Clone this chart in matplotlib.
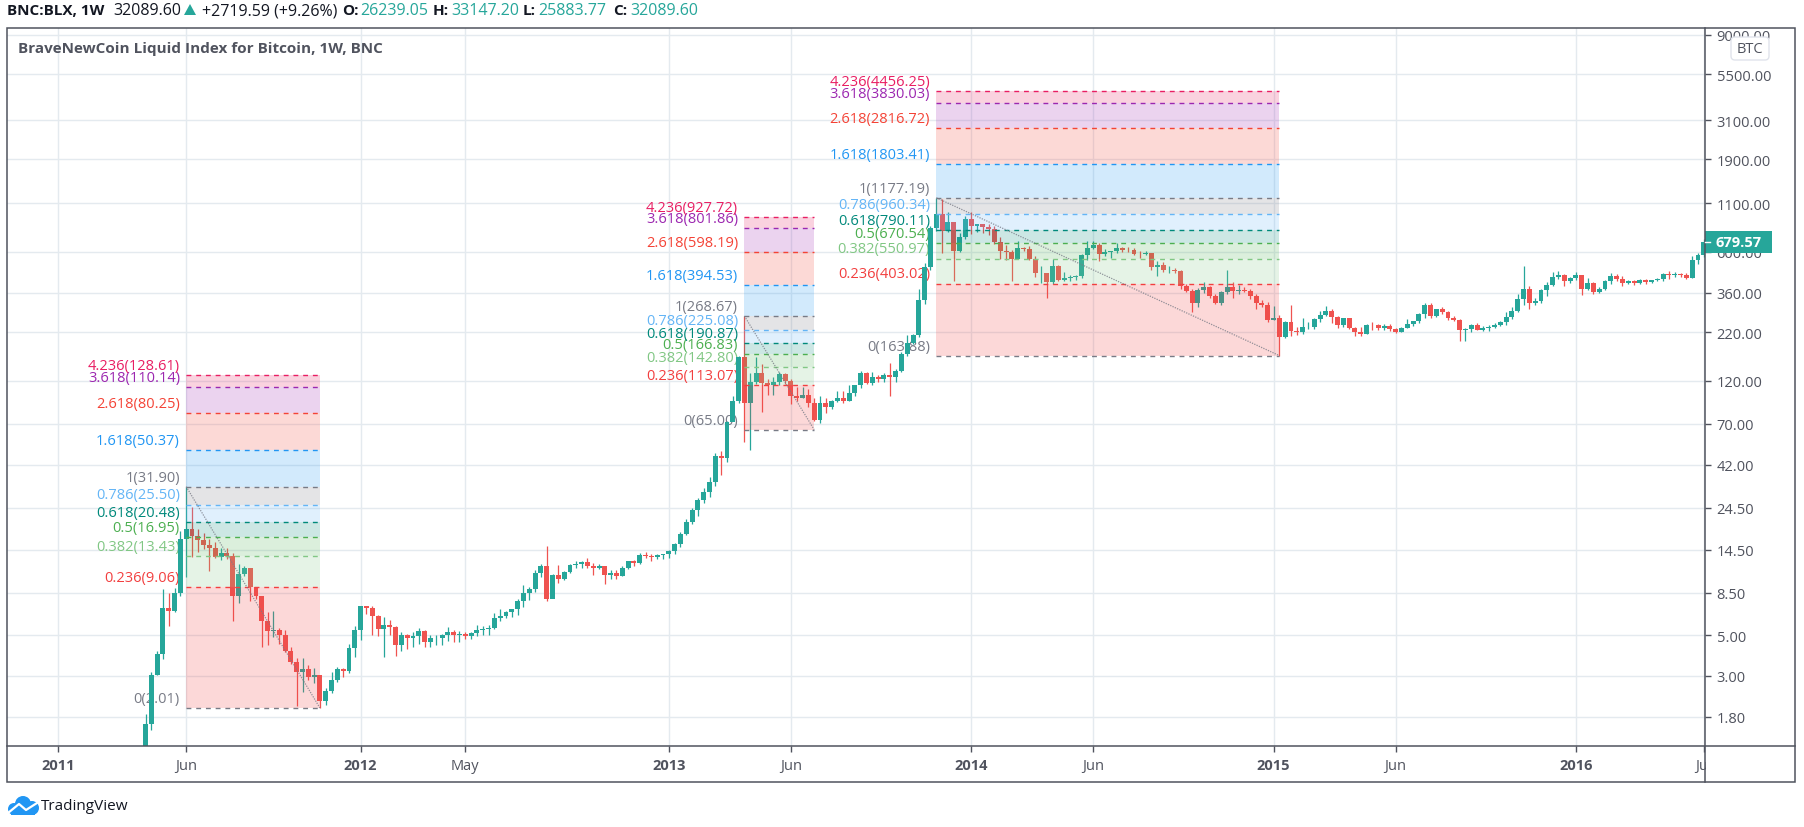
import numpy as np
import matplotlib
matplotlib.use('Agg')
import matplotlib.pyplot as plt
from matplotlib.patches import Rectangle, Circle, FancyBboxPatch, Polygon

plt.rcParams['font.family'] = ['Open Sans', 'DejaVu Sans']

# weekly candles, bar numbers counted from the first week of 2011
first_bar = 15
first_open = 1.0

closes = [1.65,3.05,3.92,7.05,6.73,8.50,16.6,18.8,17.3,16.3,
          15.3,14.8,13.2,14.0,13.4,8.12,10.7,11.5,9.08,8.09,
          5.94,5.24,5.33,5.03,4.09,3.56,3.14,3.27,2.95,3.02,
          2.19,2.50,2.86,3.27,3.17,4.26,5.29,7.19,7.03,6.32,
          5.38,5.68,5.51,4.43,4.98,4.81,4.92,5.24,4.57,4.82,
          4.84,5.02,5.22,4.98,5.09,4.92,5.13,5.33,5.36,5.46,
          6.22,6.35,6.68,6.88,7.69,8.50,8.83,10.9,11.8,7.8,
          10.6,10.1,11.0,12.0,12.2,12.5,11.8,11.6,11.8,10.6,
          10.8,10.5,11.6,12.6,12.3,13.5,13.4,13.3,13.5,13.7,
          14.3,15.6,17.7,20.6,23.9,27.0,29.9,33.9,46.8,45.9,
          71.9,93.1,161,91,118,132,116,113,118,131,
          120,99,97,100.6,91,73.5,90.4,86,93,97,
          93.5,102.4,113,132,117,125,122,128,126,136,
          168,193,212,327,496,810,959,779,866,606,
          725,905,832,848,812,800,677,606,600,550,
          626,620,548,458,462,412,500,422,430,435,
          443,575,628,652,585,600,603,628,616,613,
          586,580,590,495,510,475,480,472,390,366,
          317,374,385,345,316,362,384,366,373,368,
          344,318,308,256,262,208,250,224,220,234,
          235,258,272,287,267,240,261,230,220,215,
          240,239,232,238,228,220,232,244,252,274,
          309,269,292,282,261,257,226,228,240,226,
          230,235,240,250,265,286,332,377,317,324,
          373,394,437,447,417,431,450,377,408,361,
          376,417,443,429,404,415,407,422,410,420,
          425,457,451,455,447,434,542,575,679.57]

highs = [1.87,3.14,4.07,8.90,8.47,9.01,18.4,31.9,24.6,18.8,
         17.9,16.5,15.9,14.9,14.9,13.9,12.1,11.9,11.6,9.15,
         8.15,6.65,6.74,5.44,5.33,4.33,3.76,3.76,3.42,3.32,
         3.0,2.58,3.14,3.37,3.32,4.48,5.60,7.2,7.19,7.19,
         6.4,6.24,6.03,5.60,5.20,5.09,5.20,5.46,5.33,4.98,
         4.98,5.09,5.51,5.29,5.24,5.17,5.20,5.68,5.62,5.64,
         6.56,6.96,6.79,6.96,7.85,9.39,9.08,11.3,12.1,15.2,
         10.7,12.0,11.1,12.1,12.6,12.6,13.1,12.3,12.1,11.9,
         11.3,11.2,11.8,12.6,12.8,13.9,14.1,13.8,13.7,13.8,
         14.4,15.7,18.1,21.3,24.3,27.6,31.5,36.0,48.8,49.9,
         72,99.4,164,268.67,132,161,148,122,125,134,
         132,122,111,111,108,96,99,96,94,105,
         105,113,114,136,134,134,128,132,150,139,
         171,212,216,378,518,828,1177,1155,982,866,
         757,932,982,850,848,848,825,720,654,612,
         684,640,648,570,500,462,545,510,465,450,
         450,585,690,690,668,618,606,668,640,635,
         628,604,604,592,533,528,500,490,480,400,
         378,383,412,390,352,367,480,412,398,388,
         377,352,330,320,305,272,253,307,233,262,
         250,262,285,303,292,268,263,263,235,235,
         243,250,243,243,242,232,233,260,254,278,
         318,318,294,301,286,268,259,232,243,246,
         237,240,246,253,283,300,352,502,393,335,
         376,411,468,473,453,436,468,450,430,410,
         384,420,458,452,443,422,420,425,425,422,
         431,459,472,465,459,459,572,590,700]

lows = [1.0,1.53,3.02,3.71,5.58,6.65,8.19,10.3,13.2,14.1,
        14.7,11.1,13.1,12.7,12.9,5.99,7.44,10.5,7.69,7.85,
        4.30,4.39,4.87,4.48,4.04,3.46,2.06,2.45,2.86,2.74,
        2.01,2.08,2.43,2.77,2.95,3.10,3.78,4.67,6.53,4.98,
        4.92,3.78,4.98,3.87,4.09,4.21,4.30,4.48,4.33,4.30,
        4.43,4.39,4.63,4.57,4.57,4.74,4.78,4.92,5.0,5.03,
        5.38,5.94,6.2,6.24,6.44,7.10,7.75,8.53,10.3,7.65,
        7.9,9.63,9.9,10.8,11.6,11.6,11.5,10.6,11.4,9.4,
        10.1,10.1,10.4,11.4,11.8,12.1,13.1,12.6,13.0,13.0,
        13.1,13.7,15.1,17.5,19.9,22.0,26.1,28.2,32.0,36.8,
        43.5,72,91,56,50.5,115,81,100,100,113,
        115,90,93.4,97,86,72,71,80,84,91.5,
        91,93,99.4,110,115,113,118,118,99,118,
        134,164,190,208,314,478,779,593,772,414,
        600,707,747,772,760,735,659,550,540,418,
        548,605,540,435,405,338,403,416,416,414,
        424,430,540,620,535,572,552,590,600,596,
        576,552,574,475,442,465,460,458,378,362,
        282,302,360,335,312,310,353,336,356,361,
        332,295,300,250,255,163.88,205,210,212,214,
        228,228,250,270,245,232,235,228,210,210,
        215,226,226,226,224,218,220,231,236,246,
        263,263,267,276,257,251,197,197,220,225,
        223,223,232,236,240,258,283,310,294,310,
        318,345,391,425,393,405,424,350,370,355,
        358,370,403,417,390,403,398,403,403,408,
        414,414,425,435,440,429,432,512,560]

y_ticks = [9000, 5500, 3100, 1900, 1100, 600, 360, 220, 120, 70, 42, 24.5, 14.5, 8.5, 5, 3, 1.8]
x_ticks = [0, 22, 52, 70, 105, 126, 157, 178, 209, 230, 261, 283]
x_labels = ['2011', 'Jun', '2012', 'May', '2013', 'Jun', '2014', 'Jun', '2015', 'Jun', '2016', 'Jul']

# fib extension tools
fib_ratios = ['0', '0.236', '0.382', '0.5', '0.618', '0.786', '1', '1.618', '2.618', '3.618', '4.236']
fib_colors = ['#787b86', '#f23f3f', '#81c784', '#4caf50', '#00897b', '#64b5f6', '#787b86',
              '#2196f3', '#f44336', '#9c27b0', '#e91e63']
fib_a = [2.01, 9.06, 13.43, 16.95, 20.48, 25.50, 31.90, 50.37, 80.25, 110.14, 128.61]
fib_b = [65.00, 113.07, 142.80, 166.83, 190.87, 225.08, 268.67, 394.53, 598.19, 801.86, 927.72]
fib_c = [163.88, 403.02, 550.97, 670.54, 790.11, 960.34, 1177.19, 1803.41, 2816.72, 3830.03, 4456.25]
fib_spans = [(22, 45), (118, 130), (151, 210)]

UP = '#26a69a'
DOWN = '#ef5350'
GRID = '#e4eaef'
DARK = '#50535e'

W, H = 1804, 828
fig = plt.figure(figsize=(W / 100, H / 100), dpi=100, facecolor='white')
ax = fig.add_axes([7 / W, (H - 747) / H, 1698 / W, 718 / H])
ax.set_yscale('log')
ax.set_xlim(-8.82, 283.2)
ax.set_ylim(1.25, 9810)

ax.set_yticks(y_ticks)
ax.set_yticklabels(['%.2f' % v for v in y_ticks])
ax.minorticks_off()
ax.yaxis.tick_right()
ax.set_xticks(x_ticks)
ax.set_xticklabels(x_labels)
ax.tick_params(axis='y', length=4.3, width=1, color=DARK, labelcolor=DARK, labelsize=10.5, pad=4)
ax.tick_params(axis='x', length=4.3, width=1, color=DARK, labelcolor=DARK, labelsize=10.5, pad=4)
for lab in ax.get_xticklabels():
    if lab.get_text().isdigit():
        lab.set_fontweight('bold')
ax.grid(True, color=GRID, linewidth=1.0, zorder=1)
ax.set_axisbelow(True)
for s in ax.spines.values():
    s.set_visible(False)

# candles
closes = np.array(closes, dtype=float)
highs = np.array(highs, dtype=float)
lows = np.array(lows, dtype=float)
opens = np.concatenate([[first_open], closes[:-1]])
bars = first_bar + np.arange(len(closes))
cols = [UP if c >= o else DOWN for o, c in zip(opens, closes)]
ax.vlines(bars, lows, highs, colors=cols, linewidth=0.9, zorder=3)
tops = np.maximum(opens, closes)
bots = np.minimum(opens, closes)
ax.bar(bars, tops - bots, bottom=bots, width=0.85, color=cols, linewidth=0, zorder=3)

# fib boxes, band takes the colour of its upper level
for levels, (x0, x1) in zip([fib_a, fib_b, fib_c], fib_spans):
    for i in range(1, len(levels)):
        ax.fill_between([x0, x1], levels[i - 1], levels[i], color=fib_colors[i], alpha=0.2,
                        linewidth=0, zorder=4)
    for i, level in enumerate(levels):
        ax.plot([x0, x1], [level, level], color=fib_colors[i], linewidth=1.0, dashes=(3.5, 3.5), zorder=5)
        ax.annotate('%s(%.2f)' % (fib_ratios[i], level), xy=(x0, level), xytext=(-4.5, 1.5),
                    textcoords='offset points', ha='right', va='bottom', fontsize=10.5,
                    color=fib_colors[i], zorder=2)
    ax.plot([x0, x1], [levels[6], levels[0]], color='#787b86', linewidth=0.9, alpha=0.8,
            dashes=(1, 1), zorder=5)

# frame, header and logo live on a pixel overlay
ov = fig.add_axes([0, 0, 1, 1], zorder=10)
ov.set_xlim(0, W)
ov.set_ylim(H, 0)
ov.axis('off')
ov.patch.set_alpha(0)

ov.add_patch(Rectangle((1706, 748), 88, 34, color='white', lw=0))
ov.add_patch(Rectangle((7, 29), 1788, 754, fill=False, edgecolor=DARK, linewidth=1.1))
ov.plot([7, 1795], [747, 747], color=DARK, linewidth=1.1)
ov.plot([1705, 1705], [29, 783], color=DARK, linewidth=1.1)

# last price tag
ov.add_patch(Rectangle((1705, 232), 67, 22, color=UP, lw=0))
ov.plot([1705, 1710], [243, 243], color='white', linewidth=1)
ov.text(1716, 243, '679.57', color='white', fontsize=10.5, fontweight='bold', va='center', ha='left')

# BTC badge
ov.add_patch(FancyBboxPatch((1731, 38), 38, 23, boxstyle='round,pad=0,rounding_size=4',
                            facecolor='white', edgecolor='#e0e3eb', linewidth=1))
ov.text(1750, 49.5, 'BTC', color=DARK, fontsize=10.5, va='center', ha='center')

ov.text(18, 49, 'BraveNewCoin Liquid Index for Bitcoin, 1W, BNC', color=DARK, fontsize=11,
        fontweight='bold', va='center', ha='left')

# header line
black = '#131722'
teal = '#26a69a'
y_head = 11
ov.text(7, y_head, 'BNC:BLX, 1W', color=black, fontsize=11, fontweight='bold', va='center')
ov.text(113, y_head, '32089.60', color=black, fontsize=11.5, va='center')
ov.add_patch(Polygon([[184, 16], [196, 16], [190, 5]], color=teal, lw=0))
ov.text(202, y_head, '+2719.59 (+9.26%)', color=black, fontsize=11.5, va='center')
for x_key, key, x_val, val in [(342, 'O:', 360, '26239.05'), (433, 'H:', 451, '33147.20'),
                               (523, 'L:', 538, '25883.77'), (613, 'C:', 630, '32089.60')]:
    ov.text(x_key, y_head, key, color=black, fontsize=11, fontweight='bold', va='center')
    ov.text(x_val, y_head, val, color=teal, fontsize=11.5, va='center')

# TradingView cloud
blue = '#2196f3'
for cx, cy, r in [(14, 810, 6), (23, 805, 8), (32, 809, 7)]:
    ov.add_patch(Circle((cx, cy), r, color=blue, lw=0))
ov.add_patch(Rectangle((11, 808), 24, 8, color=blue, lw=0))
ov.plot([8, 19, 26, 37], [814, 805, 811, 804], color='white', linewidth=1.6)
ov.text(41, 807, 'TradingView', color='#131722', fontsize=11, va='center', ha='left')

fig.savefig('out.png', dpi=100)
